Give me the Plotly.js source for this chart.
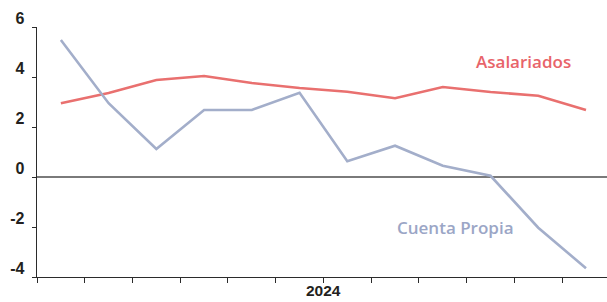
<!DOCTYPE html>
<html>
<head>
<meta charset="utf-8">
<script src="https://cdn.plot.ly/plotly-3.0.1.min.js"></script>
<style>
  html, body { margin: 0; padding: 0; background: #fff; }
  #chart { width: 607px; height: 302px; }
</style>
</head>
<body>
<div id="chart"></div>
<script>
const periods = [0, 1, 2, 3, 4, 5, 6, 7, 8, 9, 10, 11];
const asalariados = [2.95, 3.36, 3.88, 4.04, 3.76, 3.56, 3.41, 3.15, 3.6, 3.4, 3.25, 2.68];
const cuentaPropia = [5.48, 2.95, 1.12, 2.68, 2.68, 3.37, 0.63, 1.25, 0.45, 0.05, -2.03, -3.65];
const xTickVals = [-0.5, 0.5, 1.5, 2.5, 3.5, 4.5, 5.5, 6.5, 7.5, 8.5, 9.5, 10.5];
const yearLabel = { x: 5.5, text: '2024' };
const yTickVals = [-4, -2, 0, 2, 4, 6];
const yTickText = ['-4', '-2', '0', '2', '4', '6'];

const red = '#E9706F';
const blue = '#A3AECA';

const traces = [
  { x: periods, y: asalariados, type: 'scatter', mode: 'lines', name: 'Asalariados',
    line: { color: red, width: 2.6 }, hoverinfo: 'skip' },
  { x: periods, y: cuentaPropia, type: 'scatter', mode: 'lines', name: 'Cuenta Propia',
    line: { color: blue, width: 2.6 }, hoverinfo: 'skip' }
];

const layout = {
  width: 607, height: 302,
  margin: { l: 37, r: 0, t: 27, b: 25 },
  paper_bgcolor: '#fff', plot_bgcolor: '#fff',
  showlegend: false,
  xaxis: {
    range: [-0.5, 11.44],
    showgrid: false, zeroline: false,
    showline: true, linecolor: '#2b2b2b', linewidth: 1.3,
    tickmode: 'array', tickvals: xTickVals, showticklabels: false,
    ticks: 'outside', ticklen: 5, tickwidth: 1, tickcolor: '#2b2b2b'
  },
  yaxis: {
    range: [-4, 6],
    showgrid: false,
    zeroline: true, zerolinecolor: '#7a7a7a', zerolinewidth: 1.6,
    showline: true, linecolor: '#2b2b2b', linewidth: 1.3,
    tickmode: 'array', tickvals: yTickVals, ticktext: yTickText,
    ticks: 'outside', ticklen: 4, tickwidth: 1, tickcolor: '#2b2b2b',
    ticklabelshift: -9, ticklabelstandoff: 4,
    tickfont: { family: 'Liberation Sans, Arial, sans-serif', size: 16, color: '#231f20', weight: 'bold' }
  },
  annotations: [
    { x: yearLabel.x, y: 0, xref: 'x', yref: 'paper', yanchor: 'middle', yshift: -13,
      text: yearLabel.text, showarrow: false,
      font: { family: 'Liberation Sans, Arial, sans-serif', size: 15.5, color: '#231f20', weight: 'bold' } },
    { x: 9.69, y: 4.62, xref: 'x', yref: 'y', text: 'Asalariados', showarrow: false,
      font: { family: 'Open Sans, Noto Sans, sans-serif', size: 17, color: '#E8646A', weight: 600 } },
    { x: 8.26, y: -2.0, xref: 'x', yref: 'y', text: 'Cuenta Propia', showarrow: false,
      font: { family: 'Open Sans, Noto Sans, sans-serif', size: 17, color: '#9BA6C6', weight: 600 } }
  ]
};

Plotly.newPlot('chart', traces, layout, { staticPlot: true, displayModeBar: false });
</script>
</body>
</html>
